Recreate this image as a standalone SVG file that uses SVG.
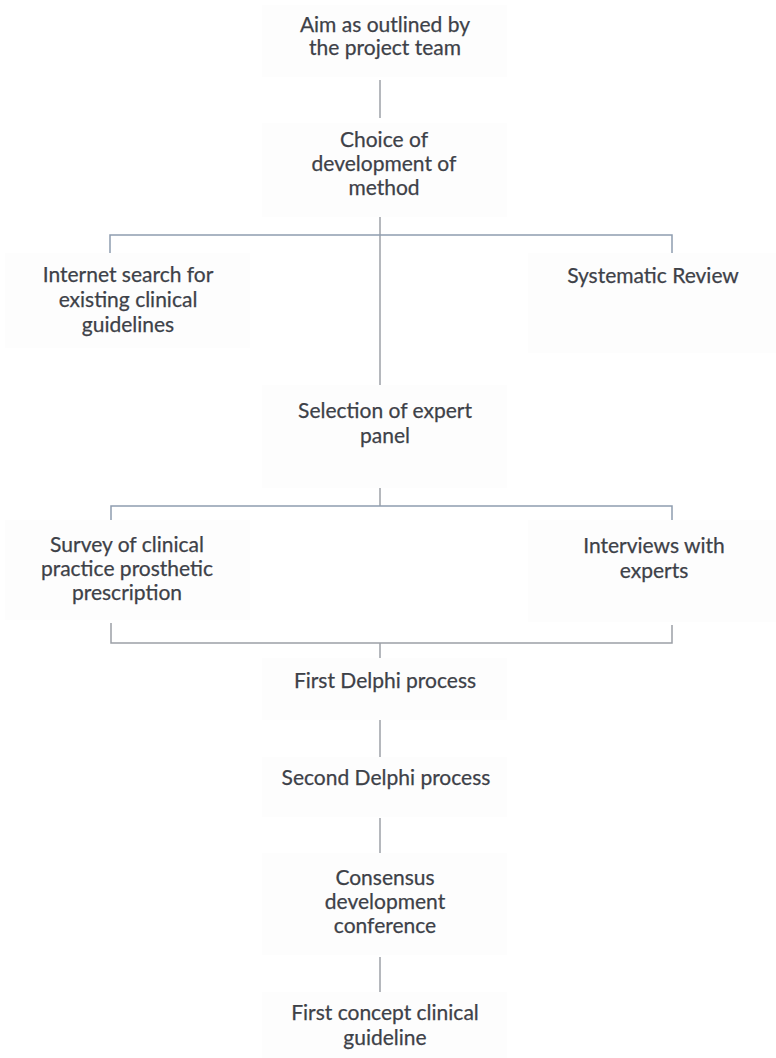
<svg xmlns="http://www.w3.org/2000/svg" width="776" height="1058" viewBox="0 0 776 1058">
<style>
.box{fill:#fdfdfd;stroke:none}
.t{font-family:Lato,"Open Sans","DejaVu Sans",sans-serif;font-size:21px;fill:#3d4148;stroke:#3d4148;stroke-width:0.25;text-anchor:middle}
.c{fill:none;stroke:#9ca0a7;stroke-width:1.5}
.h{fill:none;stroke:#8e9db0;stroke-width:1.5}
</style>
<rect width="776" height="1058" fill="#ffffff"/>
<g id="connectors">
<path class="c" d="M380,80 V118"/>
<path class="c" d="M380,217 V387"/>
<path class="h" d="M110,253 V235 H672 V255"/>
<path class="c" d="M380,488 V506"/>
<path class="h" d="M111,522 V506 H672 V522"/>
<path class="c" d="M111,623 V643 H672 V625"/>
<path class="c" d="M380,643 V660"/>
<path class="c" d="M380,720 V757"/>
<path class="c" d="M380,818 V853"/>
<path class="c" d="M380,957 V992"/>
</g>
<g id="n1"><rect class="box" x="262" y="5" width="245" height="72"/>
<text class="t" x="385" y="32">Aim as outlined by</text><text class="t" x="385" y="55">the project team</text></g>
<g id="n2"><rect class="box" x="262" y="123" width="245" height="94"/>
<text class="t" x="384" y="147">Choice of</text><text class="t" x="384" y="171">development of</text><text class="t" x="384" y="195">method</text></g>
<g id="n3"><rect class="box" x="5" y="253" width="245" height="95"/>
<text class="t" x="128" y="282">Internet search for</text><text class="t" x="128" y="307">existing clinical</text><text class="t" x="128" y="332">guidelines</text></g>
<g id="n4"><rect class="box" x="528" y="253" width="248" height="100"/>
<text class="t" x="653" y="283">Systematic Review</text></g>
<g id="n5"><rect class="box" x="262" y="385" width="245" height="103"/>
<text class="t" x="385" y="418">Selection of expert</text><text class="t" x="385" y="443">panel</text></g>
<g id="n6"><rect class="box" x="5" y="520" width="245" height="100"/>
<text class="t" x="127" y="552">Survey of clinical</text><text class="t" x="127" y="576">practice prosthetic</text><text class="t" x="127" y="600">prescription</text></g>
<g id="n7"><rect class="box" x="528" y="520" width="248" height="102"/>
<text class="t" x="654" y="553">Interviews with</text><text class="t" x="654" y="578">experts</text></g>
<g id="n8"><rect class="box" x="262" y="658" width="245" height="62"/>
<text class="t" x="385" y="688">First Delphi process</text></g>
<g id="n9"><rect class="box" x="262" y="757" width="245" height="60"/>
<text class="t" x="386" y="785">Second Delphi process</text></g>
<g id="n10"><rect class="box" x="262" y="853" width="245" height="102"/>
<text class="t" x="385" y="885">Consensus</text><text class="t" x="385" y="909">development</text><text class="t" x="385" y="933">conference</text></g>
<g id="n11"><rect class="box" x="262" y="992" width="245" height="66"/>
<text class="t" x="385" y="1020">First concept clinical</text><text class="t" x="385" y="1045">guideline</text></g>
</svg>
